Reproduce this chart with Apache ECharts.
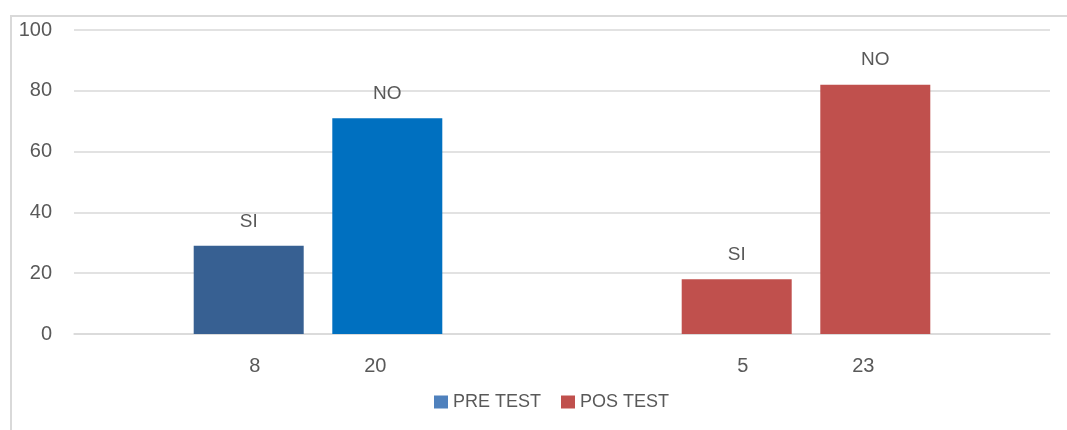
<!DOCTYPE html>
<html>
<head>
<meta charset="utf-8">
<script src="https://cdn.jsdelivr.net/npm/echarts@6/dist/echarts.min.js"></script>
<style>
    html, body { margin: 0; padding: 0; background: #fff; }
    #chart { width: 1067px; height: 430px; }
</style>
</head>
<body>
<div id="chart"></div>
<script>
// datos del grafico
var categories = ['PRE TEST', 'POS TEST'];
var answers = ['SI', 'NO'];
var preValues = [29, 71];   // SI, NO
var posValues = [18, 82];   // SI, NO
var preCounts = [8, 20];    // SI, NO
var posCounts = [5, 23];    // SI, NO

var yMin = 0, yMax = 100, yStep = 20;

var legendColors = ['#4F81BD', '#C0504D'];
var barColors = [['#376092', '#0070C0'], ['#C0504D', '#C0504D']];
var textColor = '#595959';
var font = 'Liberation Sans';

window.onload = function () {
    var chart = echarts.init(document.getElementById('chart'));
    var series = [];
    var countOffsets = [[6, 0], [-12, 0]];

    for (var a = 0; a < answers.length; a++) {
        // numeros bajo el eje (barra invisible de altura 0)
        (function (a) {
            series.push({
                name: 'n_' + answers[a],
                type: 'bar',
                stack: answers[a],
                barWidth: 110,
                barGap: '26%',
                silent: true,
                itemStyle: { color: 'rgba(0,0,0,0)' },
                data: [0, 0],
                label: {
                    show: true,
                    position: 'bottom',
                    distance: 22,
                    offset: countOffsets[a],
                    color: textColor,
                    fontFamily: font,
                    fontSize: 20,
                    formatter: function (p) {
                        return p.dataIndex === 0 ? String(preCounts[a]) : String(posCounts[a]);
                    }
                }
            });
        })(a);

        var groups = [preValues, posValues];
        for (var g = 0; g < categories.length; g++) {
            var d = categories.map(function (c, i) { return i === g ? groups[g][a] : '-'; });
            series.push({
                name: categories[g],
                type: 'bar',
                stack: answers[a],
                barWidth: 110,
                barGap: '26%',
                itemStyle: { color: barColors[g][a] },
                label: {
                    show: true,
                    position: 'top',
                    distance: 15,
                    color: textColor,
                    fontFamily: font,
                    fontSize: 19,
                    formatter: answers[a]
                },
                data: d
            });
        }
    }

    var option = {
        animation: false,
        textStyle: { fontFamily: font },
        graphic: [{
            type: 'rect',
            shape: { x: 11, y: 16, width: 1100, height: 500 },
            style: { fill: 'none', stroke: '#d9d9d9', lineWidth: 2 },
            silent: true
        }],
        grid: { left: 74, right: 17, top: 30, bottom: 96 },
        legend: {
            left: 429,
            top: 388,
            itemWidth: 14,
            itemHeight: 13,
            itemGap: 20,
            icon: 'rect',
            textStyle: { color: textColor, fontSize: 18, fontFamily: font },
            data: [
                { name: categories[0], itemStyle: { color: legendColors[0] } },
                { name: categories[1], itemStyle: { color: legendColors[1] } }
            ],
            selectedMode: false
        },
        xAxis: {
            type: 'category',
            data: categories,
            axisLine: { show: true, lineStyle: { color: '#d9d9d9', width: 1.5 } },
            axisTick: { show: false },
            axisLabel: { show: false }
        },
        yAxis: {
            type: 'value',
            min: yMin,
            max: yMax,
            interval: yStep,
            axisLine: { show: false },
            axisTick: { show: false },
            axisLabel: { color: textColor, fontSize: 20, fontFamily: font, margin: 22 },
            splitLine: { lineStyle: { color: '#d9d9d9', width: 1.5 } }
        },
        series: series
    };
    chart.setOption(option);
};
</script>
</body>
</html>
